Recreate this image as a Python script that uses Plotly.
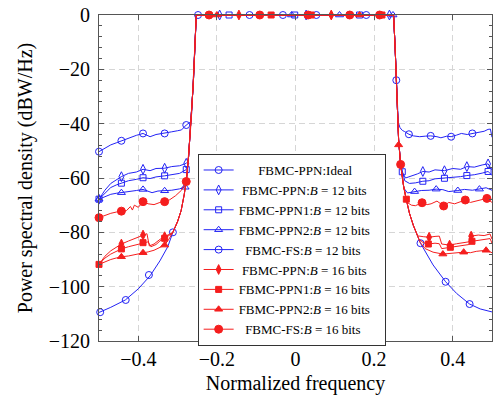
import plotly.graph_objects as go

# ---------------- data ----------------
# shared ideal roll-off / passband
IDEAL_LEFT_F = [-0.5, -0.47, -0.433, -0.40, -0.37, -0.345, -0.325, -0.312, -0.30, -0.291, -0.283, -0.277, -0.272, -0.267, -0.263, -0.26, -0.256, -0.2525]
IDEAL_LEFT_P = [-109.5, -107.6, -104.9, -100.8, -96.0, -90.5, -85.3, -80.0, -76.0, -72.0, -66.0, -60.0, -52.0, -42.0, -33.0, -25.0, -12.0, 0.0]
PASSBAND_F = [-0.2525, -0.15, 0.0, 0.15, 0.2496]
PASSBAND_P = [0.0, 0.0, 0.0, 0.0, 0.0]
IDEAL_RIGHT_F = [0.2496, 0.2535, 0.2565, 0.259, 0.2624, 0.2675, 0.275, 0.282, 0.29, 0.30, 0.318, 0.35, 0.382, 0.41, 0.443, 0.47, 0.5]
IDEAL_RIGHT_P = [0.0, -12.0, -24.0, -35.0, -46.0, -55.0, -63.0, -68.0, -73.0, -77.5, -84.0, -92.0, -98.2, -102.5, -106.4, -108.2, -109.3]

# FBMC-PPN, B = 12 bits
PPN12_LF = [-0.5, -0.485, -0.47, -0.455, -0.443, -0.425, -0.405, -0.388, -0.37, -0.355, -0.333, -0.315, -0.295, -0.278, -0.274]
PPN12_LP = [-67.8, -64.5, -62.0, -60.5, -59.5, -58.3, -57.8, -56.8, -57.3, -56.5, -56.4, -55.8, -55.5, -54.6, -54.0]
PPN12_RF = [0.272, 0.28, 0.295, 0.31, 0.324, 0.34, 0.355, 0.379, 0.40, 0.42, 0.436, 0.455, 0.475, 0.49, 0.5]
PPN12_RP = [-58.0, -60.0, -59.3, -58.5, -57.6, -57.8, -57.0, -57.3, -56.5, -56.8, -55.8, -56.0, -55.2, -54.8, -57.0]
# FBMC-PPN1, B = 12 bits
PPN1_12_LF = [-0.5, -0.485, -0.47, -0.455, -0.443, -0.425, -0.405, -0.388, -0.37, -0.355, -0.333, -0.315, -0.295, -0.278, -0.275]
PPN1_12_LP = [-67.8, -65.5, -63.5, -62.5, -61.9, -61.0, -60.5, -59.9, -60.2, -59.6, -59.2, -58.8, -58.3, -56.9, -56.0]
PPN1_12_RF = [0.2717, 0.278, 0.29, 0.305, 0.324, 0.34, 0.355, 0.379, 0.40, 0.42, 0.436, 0.455, 0.475, 0.49, 0.5]
PPN1_12_RP = [-57.7, -61.0, -62.0, -61.8, -61.2, -61.0, -60.3, -60.1, -59.8, -59.5, -59.1, -58.8, -58.2, -57.6, -59.0]
# FBMC-PPN2, B = 12 bits
PPN2_12_LF = [-0.5, -0.485, -0.47, -0.455, -0.443, -0.425, -0.405, -0.388, -0.375, -0.365, -0.35, -0.333, -0.315, -0.295, -0.283, -0.279]
PPN2_12_LP = [-67.8, -66.8, -66.0, -65.6, -65.4, -65.0, -64.6, -64.2, -64.8, -65.4, -64.8, -64.7, -64.5, -64.0, -63.4, -62.3]
PPN2_12_RF = [0.276, 0.285, 0.303, 0.32, 0.34, 0.358, 0.375, 0.39, 0.413, 0.43, 0.45, 0.468, 0.485, 0.5]
PPN2_12_RP = [-63.8, -65.5, -65.0, -64.6, -64.5, -64.1, -64.3, -65.0, -64.6, -64.2, -64.5, -64.1, -63.6, -64.5]
# FBMC-FS, B = 12 bits
FS12_LF = [-0.5, -0.485, -0.47, -0.455, -0.443, -0.425, -0.405, -0.388, -0.38, -0.37, -0.355, -0.333, -0.315, -0.3, -0.29, -0.278, -0.27, -0.2655]
FS12_LP = [-50.3, -49.0, -47.8, -47.0, -46.3, -45.4, -44.3, -43.6, -44.2, -44.8, -44.0, -43.6, -43.0, -42.6, -42.3, -40.5, -39.8, -39.2]
FS12_RF = [0.2615, 0.266, 0.272, 0.2776, 0.2886, 0.30, 0.316, 0.33, 0.344, 0.36, 0.37, 0.385, 0.396, 0.41, 0.422, 0.437, 0.45, 0.468, 0.48, 0.49, 0.496, 0.5]
FS12_RP = [-39.5, -41.5, -42.5, -42.9, -43.9, -44.5, -44.8, -44.6, -44.5, -44.8, -45.2, -44.6, -44.8, -44.2, -43.6, -44.0, -43.6, -43.0, -42.8, -42.1, -42.0, -45.0]
# FBMC-PPN, B = 16 bits
PPN16_LF = [-0.5, -0.485, -0.47, -0.455, -0.443, -0.425, -0.405, -0.388, -0.378, -0.372, -0.36, -0.345, -0.333, -0.322]
PPN16_LP = [-91.8, -88.8, -86.8, -85.3, -84.3, -83.2, -82.0, -81.0, -80.5, -85.0, -84.3, -82.6, -81.6, -80.8]
PPN16_RF = [0.311, 0.325, 0.34, 0.355, 0.366, 0.372, 0.392, 0.41, 0.43, 0.441, 0.447, 0.465, 0.48, 0.495, 0.5]
PPN16_RP = [-81.3, -81.6, -81.8, -81.5, -81.4, -84.3, -84.7, -84.2, -83.7, -83.5, -81.4, -81.0, -81.2, -80.6, -82.5]
# FBMC-PPN1, B = 16 bits
PPN1_16_LF = [-0.5, -0.485, -0.47, -0.455, -0.443, -0.425, -0.405, -0.388, -0.375, -0.368, -0.355, -0.345, -0.333, -0.32]
PPN1_16_LP = [-91.8, -89.5, -88.0, -86.8, -86.1, -85.3, -84.5, -83.8, -83.5, -85.3, -84.5, -83.2, -82.2, -81.0]
PPN1_16_RF = [0.314, 0.325, 0.338, 0.355, 0.366, 0.372, 0.394, 0.41, 0.43, 0.441, 0.449, 0.465, 0.48, 0.495, 0.5]
PPN1_16_RP = [-82.5, -83.8, -84.3, -84.0, -84.2, -86.0, -85.5, -85.3, -84.8, -84.5, -83.3, -83.0, -82.7, -82.3, -84.0]
# FBMC-PPN2, B = 16 bits
PPN2_16_LF = [-0.5, -0.485, -0.47, -0.455, -0.443, -0.425, -0.405, -0.388, -0.375, -0.36, -0.345, -0.333, -0.322]
PPN2_16_LP = [-91.8, -90.8, -90.0, -89.4, -89.0, -88.7, -88.2, -87.5, -87.2, -86.6, -85.5, -84.7, -82.5]
PPN2_16_RF = [0.317, 0.33, 0.35, 0.375, 0.39, 0.41, 0.428, 0.445, 0.46, 0.485, 0.5]
PPN2_16_RP = [-83.7, -86.0, -87.3, -88.0, -87.8, -87.6, -87.3, -87.5, -87.0, -86.6, -87.5]
# FBMC-FS, B = 16 bits
FS16_LF = [-0.5, -0.485, -0.47, -0.455, -0.443, -0.43, -0.42, -0.415, -0.41, -0.40, -0.388, -0.375, -0.36, -0.345, -0.333, -0.32, -0.305, -0.29, -0.28]
FS16_LP = [-74.6, -73.8, -73.0, -72.5, -72.2, -72.0, -70.5, -71.8, -70.0, -70.8, -68.7, -69.5, -69.8, -69.0, -68.7, -68.0, -66.5, -64.5, -62.0]
FS16_RF = [0.284, 0.295, 0.305, 0.322, 0.335, 0.345, 0.36, 0.377, 0.39, 0.405, 0.42, 0.432, 0.445, 0.46, 0.475, 0.487, 0.5]
FS16_RP = [-69.0, -70.0, -70.2, -69.1, -69.8, -69.5, -68.5, -70.3, -69.0, -69.5, -68.6, -68.1, -69.0, -68.5, -68.0, -67.5, -69.0]

# marker positions
IDEAL_MF = [-0.497, -0.432, -0.373, -0.312, -0.248, -0.032, 0.18, 0.2565, 0.318, 0.382, 0.443]
IDEAL_MP = [-109.4, -104.9, -95.7, -80.0, 0, 0, 0, -24.0, -84.0, -98.2, -106.4]
PPN12_MF = [-0.5, -0.443, -0.388, -0.333, -0.278, -0.193, 0.027, 0.239, 0.324, 0.379, 0.436, 0.49]
PPN12_MP = [-67.8, -59.5, -56.8, -56.4, -54.6, 0, 0, 0, -57.6, -57.3, -55.8, -54.8]
PPN1_12_MF = [-0.5, -0.443, -0.388, -0.333, -0.278, -0.169, -0.002, 0.163, 0.2717, 0.324, 0.379, 0.436, 0.49]
PPN1_12_MP = [-67.8, -61.9, -59.9, -59.2, -56.9, 0, 0, 0, -57.7, -61.2, -60.1, -59.1, -57.6]
PPN2_12_MF = [-0.5, -0.443, -0.388, -0.333, -0.281, -0.01, 0.112, 0.248, 0.303, 0.358, 0.413, 0.468]
PPN2_12_MP = [-67.8, -65.4, -64.2, -64.7, -63.4, 0, 0, 0, -65.0, -64.1, -64.6, -64.1]
FS12_MF = [-0.5, -0.443, -0.388, -0.333, -0.278, -0.117, 0.053, 0.138, 0.2886, 0.344, 0.396, 0.45]
FS12_MP = [-50.3, -46.3, -43.6, -43.6, -40.5, 0, 0, 0, -43.9, -44.5, -44.8, -43.6]
PPN16_MF = [-0.443, -0.388, -0.333, -0.144, 0.091, 0.34, 0.392, 0.447]
PPN16_MP = [-84.3, -81.0, -81.6, 0, 0, -81.8, -84.7, -81.4]
PPN1_16_MF = [-0.5, -0.443, -0.388, -0.333, -0.062, 0.04, 0.22, 0.282, 0.338, 0.394, 0.449]
PPN1_16_MP = [-91.8, -86.1, -83.8, -82.2, 0, 0, 0, -67.8, -84.3, -85.5, -83.3]
PPN2_16_MF = [-0.443, -0.388, -0.333, -0.2, 0.163, 0.2624, 0.375, 0.428, 0.485]
PPN2_16_MP = [-89.0, -87.5, -84.7, 0, 0, -47.8, -88.0, -87.3, -86.6]
FS16_MF = [-0.5, -0.443, -0.388, -0.333, -0.278, -0.22, -0.091, 0.032, 0.138, 0.214, 0.2675, 0.322, 0.377, 0.432, 0.487]
FS16_MP = [-74.6, -72.2, -68.7, -68.7, -61.3, 0, 0, 0, 0, 0, -55.0, -69.1, -70.3, -68.1, -67.5]

NB = "\u00a0"
LABELS = [
    NB * 6 + "FBMC-PPN:Ideal",
    NB + "FBMC-PPN:<i>B</i> = 12 bits",
    "FBMC-PPN1:<i>B</i> = 12 bits",
    "FBMC-PPN2:<i>B</i> = 12 bits",
    NB * 2 + "FBMC-FS:<i>B</i> = 12 bits",
    NB + "FBMC-PPN:<i>B</i> = 16 bits",
    "FBMC-PPN1:<i>B</i> = 16 bits",
    "FBMC-PPN2:<i>B</i> = 16 bits",
    NB * 2 + "FBMC-FS:<i>B</i> = 16 bits",
]

BLUE = "#2323f5"
RED = "#f51e1e"


def build(lf, lp, rf, rp):
    xs, ys = list(lf), list(lp)
    for x, y in zip(IDEAL_LEFT_F, IDEAL_LEFT_P):
        if x > lf[-1]:
            xs.append(x); ys.append(y)
    xs += PASSBAND_F[1:-1]; ys += PASSBAND_P[1:-1]
    for x, y in zip(IDEAL_RIGHT_F, IDEAL_RIGHT_P):
        if x < rf[0]:
            xs.append(x); ys.append(y)
    xs += rf; ys += rp
    return xs, ys


curves = [
    (IDEAL_LEFT_F, IDEAL_LEFT_P, IDEAL_RIGHT_F, IDEAL_RIGHT_P, IDEAL_MF, IDEAL_MP, BLUE, "circle-open", 7),
    (PPN12_LF, PPN12_LP, PPN12_RF, PPN12_RP, PPN12_MF, PPN12_MP, BLUE, "diamond-tall-open", 7),
    (PPN1_12_LF, PPN1_12_LP, PPN1_12_RF, PPN1_12_RP, PPN1_12_MF, PPN1_12_MP, BLUE, "square-open", 6),
    (PPN2_12_LF, PPN2_12_LP, PPN2_12_RF, PPN2_12_RP, PPN2_12_MF, PPN2_12_MP, BLUE, "triangle-up-open", 7),
    (FS12_LF, FS12_LP, FS12_RF, FS12_RP, FS12_MF, FS12_MP, BLUE, "circle-open", 7),
    (PPN16_LF, PPN16_LP, PPN16_RF, PPN16_RP, PPN16_MF, PPN16_MP, RED, "diamond-tall", 7),
    (PPN1_16_LF, PPN1_16_LP, PPN1_16_RF, PPN1_16_RP, PPN1_16_MF, PPN1_16_MP, RED, "square", 6),
    (PPN2_16_LF, PPN2_16_LP, PPN2_16_RF, PPN2_16_RP, PPN2_16_MF, PPN2_16_MP, RED, "triangle-up", 7),
    (FS16_LF, FS16_LP, FS16_RF, FS16_RP, FS16_MF, FS16_MP, RED, "circle", 8),
]

fig = go.Figure()
for i, (lf, lp, rf, rp, mf, mp, col, sym, ms) in enumerate(curves):
    xs, ys = build(lf, lp, rf, rp)
    mk = dict(symbol=sym, size=ms, color=col, line=dict(width=1, color=col))
    fig.add_trace(go.Scatter(x=xs, y=ys, mode="lines", line=dict(color=col, width=1),
                             showlegend=False, legendgroup=str(i), cliponaxis=False, hoverinfo="skip"))
    fig.add_trace(go.Scatter(x=mf, y=mp, mode="markers", marker=mk,
                             showlegend=False, legendgroup=str(i), cliponaxis=False))
    fig.add_trace(go.Scatter(x=[None], y=[None], mode="lines+markers", name=LABELS[i] + NB * 3,
                             line=dict(color=col, width=1), marker=mk, legendgroup=str(i)))

FONT = "Liberation Serif"
axis_common = dict(
    showline=True, linecolor="#555555", linewidth=1, mirror="ticks",
    ticks="inside", ticklen=5, tickcolor="#555555",
    showgrid=True, gridcolor="#d6d6d6", griddash="6px,4px", gridwidth=1,
    zeroline=False, tickfont=dict(family=FONT, size=20, color="black"),
)
fig.update_xaxes(range=[-0.5, 0.5], dtick=0.2, tick0=0, **axis_common,
                 title=dict(text="Normalized frequency", font=dict(family=FONT, size=20, color="black"), standoff=6))
fig.update_yaxes(range=[-120, 0], dtick=20, tick0=0, **axis_common,
                 minor=dict(ticks="inside", dtick=4, ticklen=3, tickcolor="#555555", showgrid=False),
                 ticklabelstandoff=4,
                 title=dict(text="Power spectral density (dBW/Hz)", font=dict(family=FONT, size=20, color="black"), standoff=10))

fig.update_layout(
    width=498, height=401,
    margin=dict(l=99, r=6, t=15, b=60, autoexpand=False),
    plot_bgcolor="white", paper_bgcolor="white",
    font=dict(family=FONT, color="black"),
    legend=dict(x=0.251, y=0.279, xanchor="left", yanchor="middle",
                bgcolor="white", bordercolor="#333333", borderwidth=1,
                font=dict(family=FONT, size=13, color="black"),
                itemwidth=30, tracegroupgap=0),
)
fig.write_html("out.html", config={"displayModeBar": False},
               post_script="document.body.style.margin='0';document.body.style.overflow='hidden';")
